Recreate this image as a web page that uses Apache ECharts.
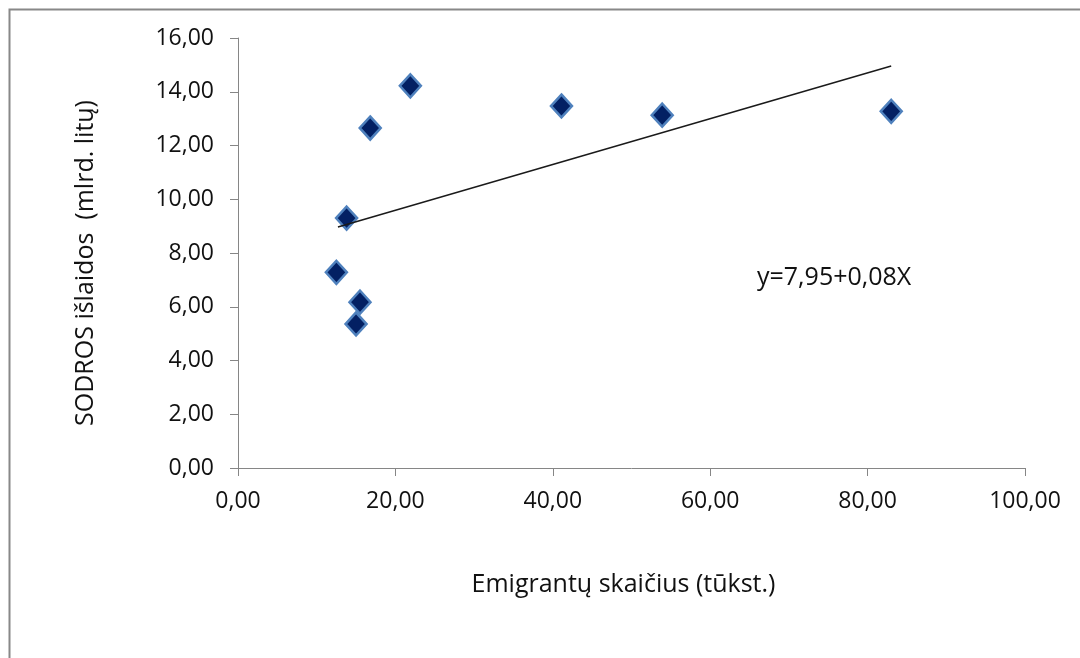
<!DOCTYPE html>
<html>
<head>
<meta charset="utf-8">
<script src="https://cdn.jsdelivr.net/npm/echarts@6/dist/echarts.min.js"></script>
<style>
  html, body { margin: 0; padding: 0; background: #fff; }
  #container { width: 1080px; height: 658px; }
</style>
</head>
<body>
<div id="container"></div>
<script>
// emigrants (thousand) vs SODRA expenses (bn litas)
const emigrants = [12.5, 13.8, 15.0, 15.5, 16.8, 21.9, 41.1, 53.9, 83.0];
const expenses = [7.28, 9.30, 5.36, 6.17, 12.65, 14.22, 13.47, 13.13, 13.27];
// trend line endpoints as drawn
const trendX = [12.7, 83.0];
const trendY = [8.97, 14.96];
const equation = 'y=7,95+0,08X';

const fmt = v => v.toFixed(2).replace('.', ',');
const font = '"Open Sans", sans-serif';
const axisColor = '#868686';
const textColor = '#111';

const chart = echarts.init(document.getElementById('container'));

const option = {
    backgroundColor: '#fff',
    animation: false,
    grid: { left: 238, right: 55, top: 38, bottom: 190 },
    xAxis: {
        type: 'value',
        min: 0, max: 100, interval: 20,
        name: 'Emigrantų skaičius (tūkst.)',
        nameLocation: 'middle',
        nameGap: 104,
        nameTextStyle: { fontFamily: font, fontSize: 25, color: textColor, padding: [0, 16, 0, 0] },
        axisLine: { show: true, lineStyle: { color: axisColor, width: 1 } },
        axisTick: { show: true, length: 8, lineStyle: { color: axisColor } },
        axisLabel: { formatter: fmt, fontFamily: font, fontSize: 23, color: textColor, margin: 22 },
        splitLine: { show: false }
    },
    yAxis: {
        type: 'value',
        min: 0, max: 16, interval: 2,
        name: 'SODROS išlaidos  (mlrd. litų)',
        nameLocation: 'middle',
        nameGap: 140,
        nameTextStyle: { fontFamily: font, fontSize: 25, color: textColor, padding: [0, 20, 0, 0] },
        axisLine: { show: true, lineStyle: { color: axisColor, width: 1 } },
        axisTick: { show: true, length: 8, lineStyle: { color: axisColor } },
        axisLabel: { formatter: fmt, fontFamily: font, fontSize: 23, color: textColor, margin: 24 },
        splitLine: { show: false }
    },
    series: [
        {
            type: 'line',
            data: trendX.map((x, i) => [x, trendY[i]]),
            showSymbol: false,
            lineStyle: { color: '#1a1a1a', width: 1.5 },
            z: 3
        },
        {
            type: 'scatter',
            data: emigrants.map((x, i) => [x, expenses[i]]),
            symbol: 'diamond',
            symbolSize: [21, 23],
            itemStyle: {
                color: '#032063',
                opacity: 1,
                borderColor: '#4f81bd',
                borderWidth: 2.5
            },
            z: 2
        }
    ],
    graphic: [
        {
            type: 'rect',
            shape: { x: 9.5, y: 9.5, width: 1200, height: 800 },
            style: { fill: 'none', stroke: '#888', lineWidth: 2 },
            silent: true
        },
        {
            type: 'text',
            left: 757,
            top: 265,
            style: { text: equation, font: '25px ' + font, fill: textColor }
        }
    ]
};

chart.setOption(option);
</script>
</body>
</html>
